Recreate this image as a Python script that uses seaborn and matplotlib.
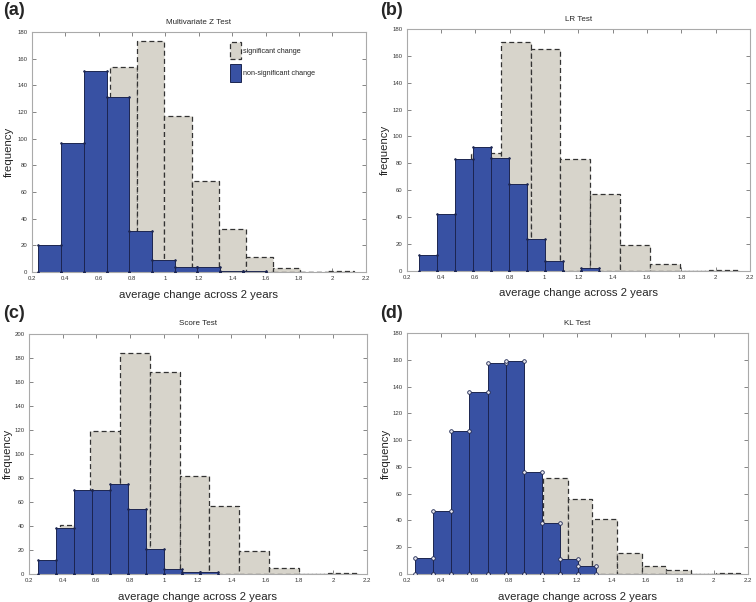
import numpy as np
import pandas as pd
import matplotlib
matplotlib.use("Agg")
import matplotlib.pyplot as plt
import seaborn as sns

# --- data ------------------------------------------------------------------
# each test: 10 bins for non-significant (blue) and 10 for significant (gray)
titles = ["Multivariate Z Test", "LR Test", "Score Test", "KL Test"]
panel_tags = ["(a)", "(b)", "(c)", "(d)"]

# bin ranges (min, max) of each histogram
blue_range_a = (0.24, 1.60)
gray_range_a = (0.507, 2.13)
blue_counts_a = [20, 97, 151, 131, 31, 9, 4, 4, 1, 1]
gray_counts_a = [60, 154, 173, 117, 68, 32, 11, 3, 0, 1]

blue_range_b = (0.272, 1.322)
gray_range_b = (0.402, 2.137)
blue_counts_b = [12, 42, 83, 92, 84, 65, 24, 7, 0, 2]
gray_counts_b = [40, 88, 170, 165, 83, 57, 19, 5, 0, 1]

blue_range_c = (0.253, 1.323)
gray_range_c = (0.388, 2.15)
blue_counts_c = [12, 38, 70, 70, 75, 54, 21, 4, 2, 2]
gray_counts_c = [41, 119, 184, 168, 82, 57, 19, 5, 0, 1]

blue_range_d = (0.25, 1.31)
gray_range_d = (0.711, 2.157)
blue_counts_d = [12, 47, 107, 136, 158, 159, 76, 38, 11, 6]
gray_counts_d = [40, 30, 72, 56, 41, 16, 6, 3, 0, 1]

y_max = [180, 180, 200, 180]
x_ticks = [0.2, 0.4, 0.6, 0.8, 1.0, 1.2, 1.4, 1.6, 1.8, 2.0, 2.2]

blue_ranges = [blue_range_a, blue_range_b, blue_range_c, blue_range_d]
gray_ranges = [gray_range_a, gray_range_b, gray_range_c, gray_range_d]
blue_counts = [blue_counts_a, blue_counts_b, blue_counts_c, blue_counts_d]
gray_counts = [gray_counts_a, gray_counts_b, gray_counts_c, gray_counts_d]

BLUE = "#3851a3"
GRAY = "#d7d4cb"

sns.set_theme(style="white")
plt.rcParams["font.family"] = ["Liberation Sans", "DejaVu Sans"]

fig = plt.figure(figsize=(7.56, 6.02), dpi=100)
# axes boxes in figure fractions
boxes = [
    [0.042, 0.548, 0.442, 0.399],
    [0.538, 0.550, 0.454, 0.402],
    [0.038, 0.0465, 0.447, 0.399],
    [0.538, 0.0465, 0.451, 0.400],
]
# where the panel letters and y labels sit
tag_pos = [(0.004, 0.996), (0.503, 0.996), (0.004, 0.494), (0.503, 0.494)]
ylab_x = [-0.054, -0.048, -0.046, -0.048]

for i in range(4):
    ax = fig.add_axes(boxes[i])
    b_edges = np.linspace(blue_ranges[i][0], blue_ranges[i][1], 11)
    g_edges = np.linspace(gray_ranges[i][0], gray_ranges[i][1], 11)
    df_b = pd.DataFrame({"x": (b_edges[:-1] + b_edges[1:]) / 2, "n": blue_counts[i]})
    df_g = pd.DataFrame({"x": (g_edges[:-1] + g_edges[1:]) / 2, "n": gray_counts[i]})

    sns.histplot(data=df_g, x="x", weights="n", bins=10, binrange=gray_ranges[i],
                 ax=ax, color=GRAY, alpha=1, edgecolor="#333333", linewidth=0.9,
                 linestyle=(0, (4, 2.5)), label="significant change")
    sns.histplot(data=df_b, x="x", weights="n", bins=10, binrange=blue_ranges[i],
                 ax=ax, color=BLUE, alpha=1, edgecolor="#1c2550", linewidth=0.7,
                 label="non-significant change")

    # little vertex markers at the bar corners
    ms = 2.6 if i == 3 else 1.2
    for k in range(10):
        ax.plot([b_edges[k], b_edges[k + 1], b_edges[k], b_edges[k + 1]],
                [blue_counts[i][k], blue_counts[i][k], 0, 0], "o", ms=ms,
                mfc="#e8e8f0" if i == 3 else "#1c2550", mec="#1c2550",
                mew=0.6, zorder=5)

    ax.set_xlim(0.2, 2.2)
    ax.set_ylim(0, y_max[i])
    ax.set_xticks(x_ticks)
    ax.set_xticklabels(["%g" % t for t in x_ticks])
    ax.set_yticks(np.arange(0, y_max[i] + 1, 20))
    ax.tick_params(direction="in", length=3, width=0.5, labelsize=4.3,
                   top=True, right=True, bottom=True, left=True,
                   colors="#555555", labelcolor="#333333", pad=3)
    for s in ax.spines.values():
        s.set_color("#aaaaaa")
        s.set_linewidth(0.8)
    ax.set_title(titles[i], fontsize=5.8, pad=6)
    ax.set_xlabel("average change across 2 years", fontsize=8.2, labelpad=6)
    ax.set_ylabel("frequency", fontsize=8.2)
    ax.yaxis.set_label_coords(ylab_x[i], 0.5)

    fig.text(tag_pos[i][0], tag_pos[i][1], panel_tags[i], fontsize=13,
             fontweight="bold", va="top", ha="left")

    if i == 0:
        ax.legend(loc="upper left", bbox_to_anchor=(0.575, 0.985), frameon=False,
                  fontsize=5.2, handlelength=1.4, handleheight=3.3,
                  handletextpad=0.35, labelspacing=0.7)

fig.savefig("out.png", dpi=100)
